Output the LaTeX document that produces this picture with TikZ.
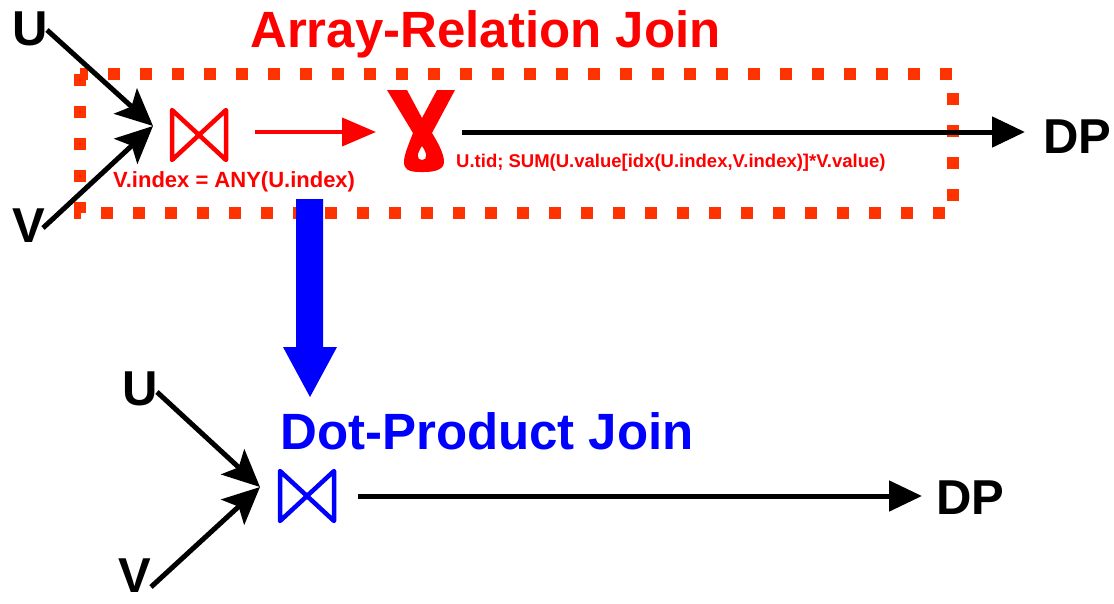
\documentclass[tikz,border=0pt]{standalone}
\usepackage{fontspec}
\setmainfont{Liberation Sans}
\usetikzlibrary{arrows.meta}
\definecolor{dotred}{HTML}{FF3300}
\definecolor{pred}{HTML}{FF0000}
\definecolor{pblue}{HTML}{0000FF}
\tikzset{
  lbl/.style={inner sep=0pt, anchor=base west, font=\fontsize{49}{49}\selectfont\bfseries},
  ttl/.style={inner sep=0pt, anchor=base west, font=\fontsize{51}{51}\selectfont\bfseries},
  small/.style={inner sep=0pt, anchor=base west, text=pred, font=\bfseries},
  inarrow/.style={line width=5pt, -{Stealth[length=37pt,width=34pt,inset=8pt]}},
  outarrow/.style={line width=5pt, -{Triangle[length=33pt,width=30pt]}},
  redarrow/.style={pred, line width=4pt, -{Triangle[length=34pt,width=28pt]}},
  bowtie/.style={line width=4.5pt, line join=round},
  dotbox/.style={dotred, line width=12pt, dash pattern=on 12pt off 20pt}
}
\begin{document}
\begin{tikzpicture}[x=1pt,y=-1pt]
\useasboundingbox (0,0) rectangle (1114,603);

% ---------- upper part ----------
\node[ttl, text=pred] (title1) at (250,47) {Array-Relation Join};
\draw[dotbox] (80,74) rectangle (953,213);

\node[lbl] (U1) at (12,45) {U};
\node[lbl] (V1) at (12,242) {V};
\coordinate (u1s) at (47,30);
\coordinate (v1s) at (43,228);
\coordinate (j1) at (153,126);
\draw[inarrow] (u1s) -- (j1);
\draw[inarrow] (v1s) -- (j1);

% red bowtie
\draw[bowtie, pred] (172,110) -- (172,160) -- (226,110) -- (226,160) -- cycle;
\node[small, font=\fontsize{22}{22}\selectfont\bfseries] (cond) at (113,187) {V.index = ANY(U.index)};

\coordinate (ra1) at (255,132);
\coordinate (ra2) at (376,132);
\draw[redarrow] (ra1) -- (ra2);

% gamma (aggregation) symbol
\fill[pred, even odd rule]
  (387,90) -- (407,90) -- (422,118) -- (437,90) -- (455,90) -- (432,133)
  .. controls (440,146) and (444,155) .. (444,162)
  .. controls (444,169) and (436,172) .. (424,172) -- (420,172)
  .. controls (408,172) and (404,169) .. (404,162)
  .. controls (404,155) and (408,146) .. (413,133) -- cycle
  (422,146) .. controls (427,153) and (428,160) .. (422,160)
  .. controls (416,160) and (417,153) .. (422,146) -- cycle;
\node[small, font=\fontsize{18.5}{18.5}\selectfont\bfseries] (agg) at (456,167) {U.tid; SUM(U.value[idx(U.index,V.index)]*V.value)};

\coordinate (o1s) at (462,132);
\node[lbl] (DP1) at (1043,153) {DP};
\coordinate (o1e) at (1025,132);
\draw[outarrow] (o1s) -- (o1e);

% ---------- big blue arrow ----------
\fill[pblue] (296,199) -- (323,199) -- (323,347) -- (337,347) -- (310,397)
  -- (283,347) -- (296,347) -- cycle;

% ---------- lower part ----------
\node[ttl, text=pblue] (title2) at (280,449) {Dot-Product Join};
\node[lbl] (U2) at (122,405) {U};
\node[lbl] (V2) at (118,592) {V};
\coordinate (u2s) at (157,392);
\coordinate (v2s) at (151,587);
\coordinate (j2) at (260,487);
\draw[inarrow] (u2s) -- (j2);
\draw[inarrow] (v2s) -- (j2);

\draw[bowtie, pblue] (280,471) -- (280,521) -- (334,471) -- (334,521) -- cycle;

\coordinate (o2s) at (358,496);
\coordinate (o2e) at (922,496);
\draw[outarrow] (o2s) -- (o2e);
\node[lbl] (DP2) at (936,514) {DP};
\end{tikzpicture}
\end{document}
